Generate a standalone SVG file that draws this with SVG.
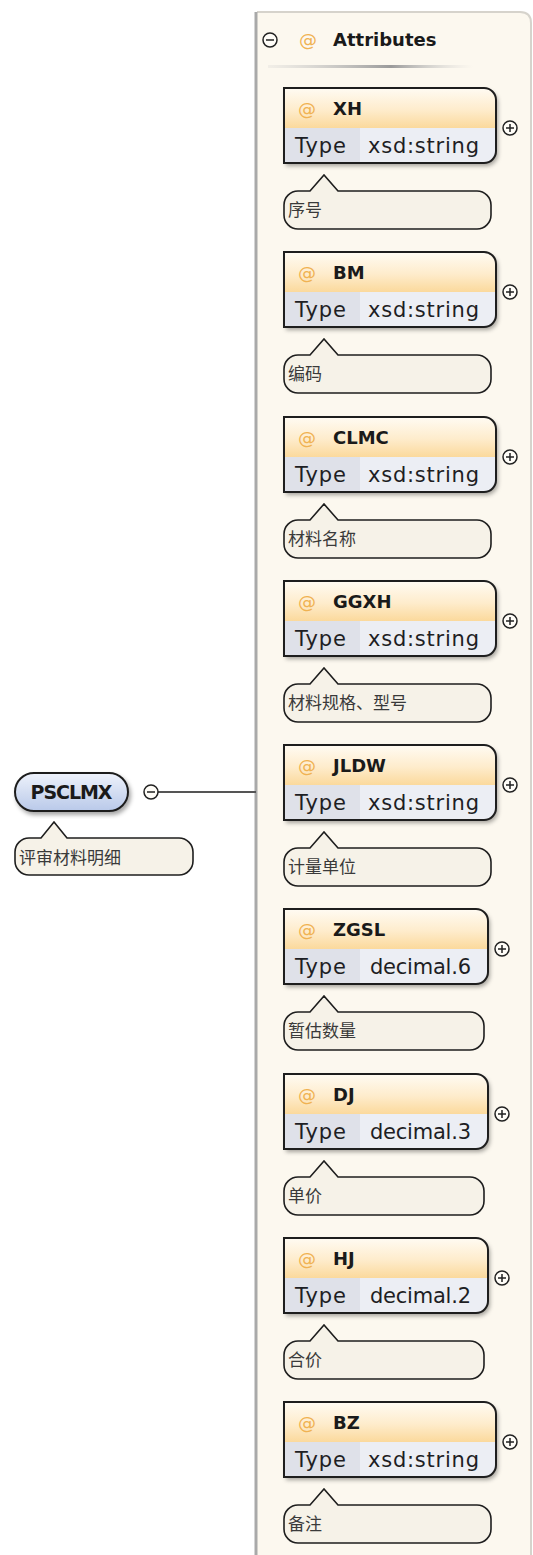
<svg xmlns="http://www.w3.org/2000/svg" xmlns:xlink="http://www.w3.org/1999/xlink" width="533" height="1555" viewBox="0 0 533 1555">
<style>
.name{font-family:"DejaVu Sans","Liberation Sans",sans-serif;font-weight:bold;font-size:18px;fill:#1a1a1a}
.at{font-family:"DejaVu Sans","Liberation Sans",sans-serif;font-size:18px;fill:#f0b252}
.typ{font-family:"DejaVu Sans","Liberation Sans",sans-serif;font-size:21px;fill:#1e1e24}
.cjk{font-family:"Noto Sans CJK SC","DejaVu Sans",sans-serif;font-size:17px;fill:#3a3a3a}
.outline{fill:none;stroke:#1e1e1e;stroke-width:2}
.bub{fill:#f6f2e8;stroke:#1e1e1e;stroke-width:1.6}
.btn{fill:#fffdf8;stroke:#222;stroke-width:1.5}
.btnl{stroke:#222;stroke-width:1.5;fill:none}
</style>
<defs>
<linearGradient id="hdr" x1="0" y1="0" x2="0" y2="1">
<stop offset="0" stop-color="#fffbf3"/>
<stop offset="0.55" stop-color="#feeccc"/>
<stop offset="1" stop-color="#fbd99c"/>
</linearGradient>
<linearGradient id="pill" x1="0" y1="0" x2="0" y2="1">
<stop offset="0" stop-color="#eef2fb"/>
<stop offset="1" stop-color="#b9c9e9"/>
</linearGradient>
<linearGradient id="uline" x1="0" y1="0" x2="1" y2="0">
<stop offset="0" stop-color="#c8c8c8" stop-opacity="0.2"/>
<stop offset="0.6" stop-color="#9a9a9a"/>
<stop offset="1" stop-color="#d0d0d0" stop-opacity="0"/>
</linearGradient>
<filter id="sh" x="-10%" y="-10%" width="125%" height="130%">
<feDropShadow dx="2" dy="3" stdDeviation="2" flood-color="#000" flood-opacity="0.35"/>
</filter>
<g id="boxS">
<path d="M284,0 H484 A12,12 0 0 1 496,12 V63 A12,12 0 0 1 484,75 H284 Z" fill="#fff" filter="url(#sh)"/>
<path d="M284,0 H484 A12,12 0 0 1 496,12 V40 H284 Z" fill="url(#hdr)"/>
<rect x="284" y="40" width="76" height="35" fill="#dfe1e9"/>
<path d="M360,40 H496 V63 A12,12 0 0 1 484,75 H360 Z" fill="#eceef4"/>
<path class="outline" d="M284,0 H484 A12,12 0 0 1 496,12 V63 A12,12 0 0 1 484,75 H284 Z"/>
<circle class="btn" cx="510" cy="40" r="7"/>
<path class="btnl" d="M506,40 H514 M510,36 V44"/>
<path class="bub" d="M298,103 H310 L324,87 L338,103 H477 A14,14 0 0 1 491,117 V127 A14,14 0 0 1 477,141 H298 A14,14 0 0 1 284,127 V117 A14,14 0 0 1 298,103 Z"/>
</g>
<g id="boxD">
<path d="M284,0 H476 A12,12 0 0 1 488,12 V63 A12,12 0 0 1 476,75 H284 Z" fill="#fff" filter="url(#sh)"/>
<path d="M284,0 H476 A12,12 0 0 1 488,12 V40 H284 Z" fill="url(#hdr)"/>
<rect x="284" y="40" width="76" height="35" fill="#dfe1e9"/>
<path d="M360,40 H488 V63 A12,12 0 0 1 476,75 H360 Z" fill="#eceef4"/>
<path class="outline" d="M284,0 H476 A12,12 0 0 1 488,12 V63 A12,12 0 0 1 476,75 H284 Z"/>
<circle class="btn" cx="502" cy="40" r="7"/>
<path class="btnl" d="M498,40 H506 M502,36 V44"/>
<path class="bub" d="M298,103 H310 L324,87 L338,103 H470 A14,14 0 0 1 484,117 V127 A14,14 0 0 1 470,141 H298 A14,14 0 0 1 284,127 V117 A14,14 0 0 1 298,103 Z"/>
</g>
</defs>
<rect x="0" y="0" width="533" height="1555" fill="#ffffff"/>

<g id="attributes-container">
<path d="M257,1555 V12 H520 Q531,12 531,23 V1555 Z" fill="#fcf8ef"/>
<path d="M257,12 H520 Q531,12 531,23 V1555" fill="none" stroke="#d6d3cc" stroke-width="2"/>
<line x1="256" y1="12" x2="256" y2="1555" stroke="#a9a9a9" stroke-width="3"/>
<circle class="btn" cx="270" cy="40" r="7"/>
<path class="btnl" d="M266,40 H274"/>
<text class="at" x="299" y="46">@</text>
<text class="name" x="333" y="46">Attributes</text>
<rect x="268" y="65" width="205" height="3" fill="url(#uline)"/>
</g>

<g id="connectors">
<line x1="158" y1="792" x2="256" y2="792" stroke="#555" stroke-width="2"/>
</g>

<g id="node-PSCLMX">
<rect x="15" y="773" width="113" height="38" rx="19" fill="url(#pill)" stroke="#1e1e1e" stroke-width="2" filter="url(#sh)"/>
<text class="name" x="71.5" y="799" text-anchor="middle" textLength="82" style="font-size:19px">PSCLMX</text>
<circle class="btn" cx="151" cy="792" r="7"/>
<path class="btnl" d="M147,792 H155"/>
<path class="bub" d="M29,838 H41 L54,822 L67,838 H179 A14,14 0 0 1 193,852 V861 A14,14 0 0 1 179,875 H29 A14,14 0 0 1 15,861 V852 A14,14 0 0 1 29,838 Z"/>
<text class="cjk" x="19" y="864">评审材料明细</text>
</g>

<g id="attr-XH" transform="translate(0,88)">
<use xlink:href="#boxS" href="#boxS"/>
<text class="at" x="298" y="27">@</text>
<text class="name" x="333" y="27">XH</text>
<text class="typ" x="295" y="65" textLength="51">Type</text>
<text class="typ" x="368" y="65" textLength="111">xsd:string</text>
<text class="cjk" x="288" y="128">序号</text>
</g>

<g id="attr-BM" transform="translate(0,252)">
<use xlink:href="#boxS" href="#boxS"/>
<text class="at" x="298" y="27">@</text>
<text class="name" x="333" y="27">BM</text>
<text class="typ" x="295" y="65" textLength="51">Type</text>
<text class="typ" x="368" y="65" textLength="111">xsd:string</text>
<text class="cjk" x="288" y="128">编码</text>
</g>

<g id="attr-CLMC" transform="translate(0,417)">
<use xlink:href="#boxS" href="#boxS"/>
<text class="at" x="298" y="27">@</text>
<text class="name" x="333" y="27">CLMC</text>
<text class="typ" x="295" y="65" textLength="51">Type</text>
<text class="typ" x="368" y="65" textLength="111">xsd:string</text>
<text class="cjk" x="288" y="128">材料名称</text>
</g>

<g id="attr-GGXH" transform="translate(0,581)">
<use xlink:href="#boxS" href="#boxS"/>
<text class="at" x="298" y="27">@</text>
<text class="name" x="333" y="27">GGXH</text>
<text class="typ" x="295" y="65" textLength="51">Type</text>
<text class="typ" x="368" y="65" textLength="111">xsd:string</text>
<text class="cjk" x="288" y="128">材料规格、型号</text>
</g>

<g id="attr-JLDW" transform="translate(0,745)">
<use xlink:href="#boxS" href="#boxS"/>
<text class="at" x="298" y="27">@</text>
<text class="name" x="333" y="27">JLDW</text>
<text class="typ" x="295" y="65" textLength="51">Type</text>
<text class="typ" x="368" y="65" textLength="111">xsd:string</text>
<text class="cjk" x="288" y="128">计量单位</text>
</g>

<g id="attr-ZGSL" transform="translate(0,909)">
<use xlink:href="#boxD" href="#boxD"/>
<text class="at" x="298" y="27">@</text>
<text class="name" x="333" y="27">ZGSL</text>
<text class="typ" x="295" y="65" textLength="51">Type</text>
<text class="typ" x="370" y="65" textLength="101">decimal.6</text>
<text class="cjk" x="288" y="128">暂估数量</text>
</g>

<g id="attr-DJ" transform="translate(0,1074)">
<use xlink:href="#boxD" href="#boxD"/>
<text class="at" x="298" y="27">@</text>
<text class="name" x="333" y="27">DJ</text>
<text class="typ" x="295" y="65" textLength="51">Type</text>
<text class="typ" x="370" y="65" textLength="101">decimal.3</text>
<text class="cjk" x="288" y="128">单价</text>
</g>

<g id="attr-HJ" transform="translate(0,1238)">
<use xlink:href="#boxD" href="#boxD"/>
<text class="at" x="298" y="27">@</text>
<text class="name" x="333" y="27">HJ</text>
<text class="typ" x="295" y="65" textLength="51">Type</text>
<text class="typ" x="370" y="65" textLength="101">decimal.2</text>
<text class="cjk" x="288" y="128">合价</text>
</g>

<g id="attr-BZ" transform="translate(0,1402)">
<use xlink:href="#boxS" href="#boxS"/>
<text class="at" x="298" y="27">@</text>
<text class="name" x="333" y="27">BZ</text>
<text class="typ" x="295" y="65" textLength="51">Type</text>
<text class="typ" x="368" y="65" textLength="111">xsd:string</text>
<text class="cjk" x="288" y="128">备注</text>
</g>
</svg>
